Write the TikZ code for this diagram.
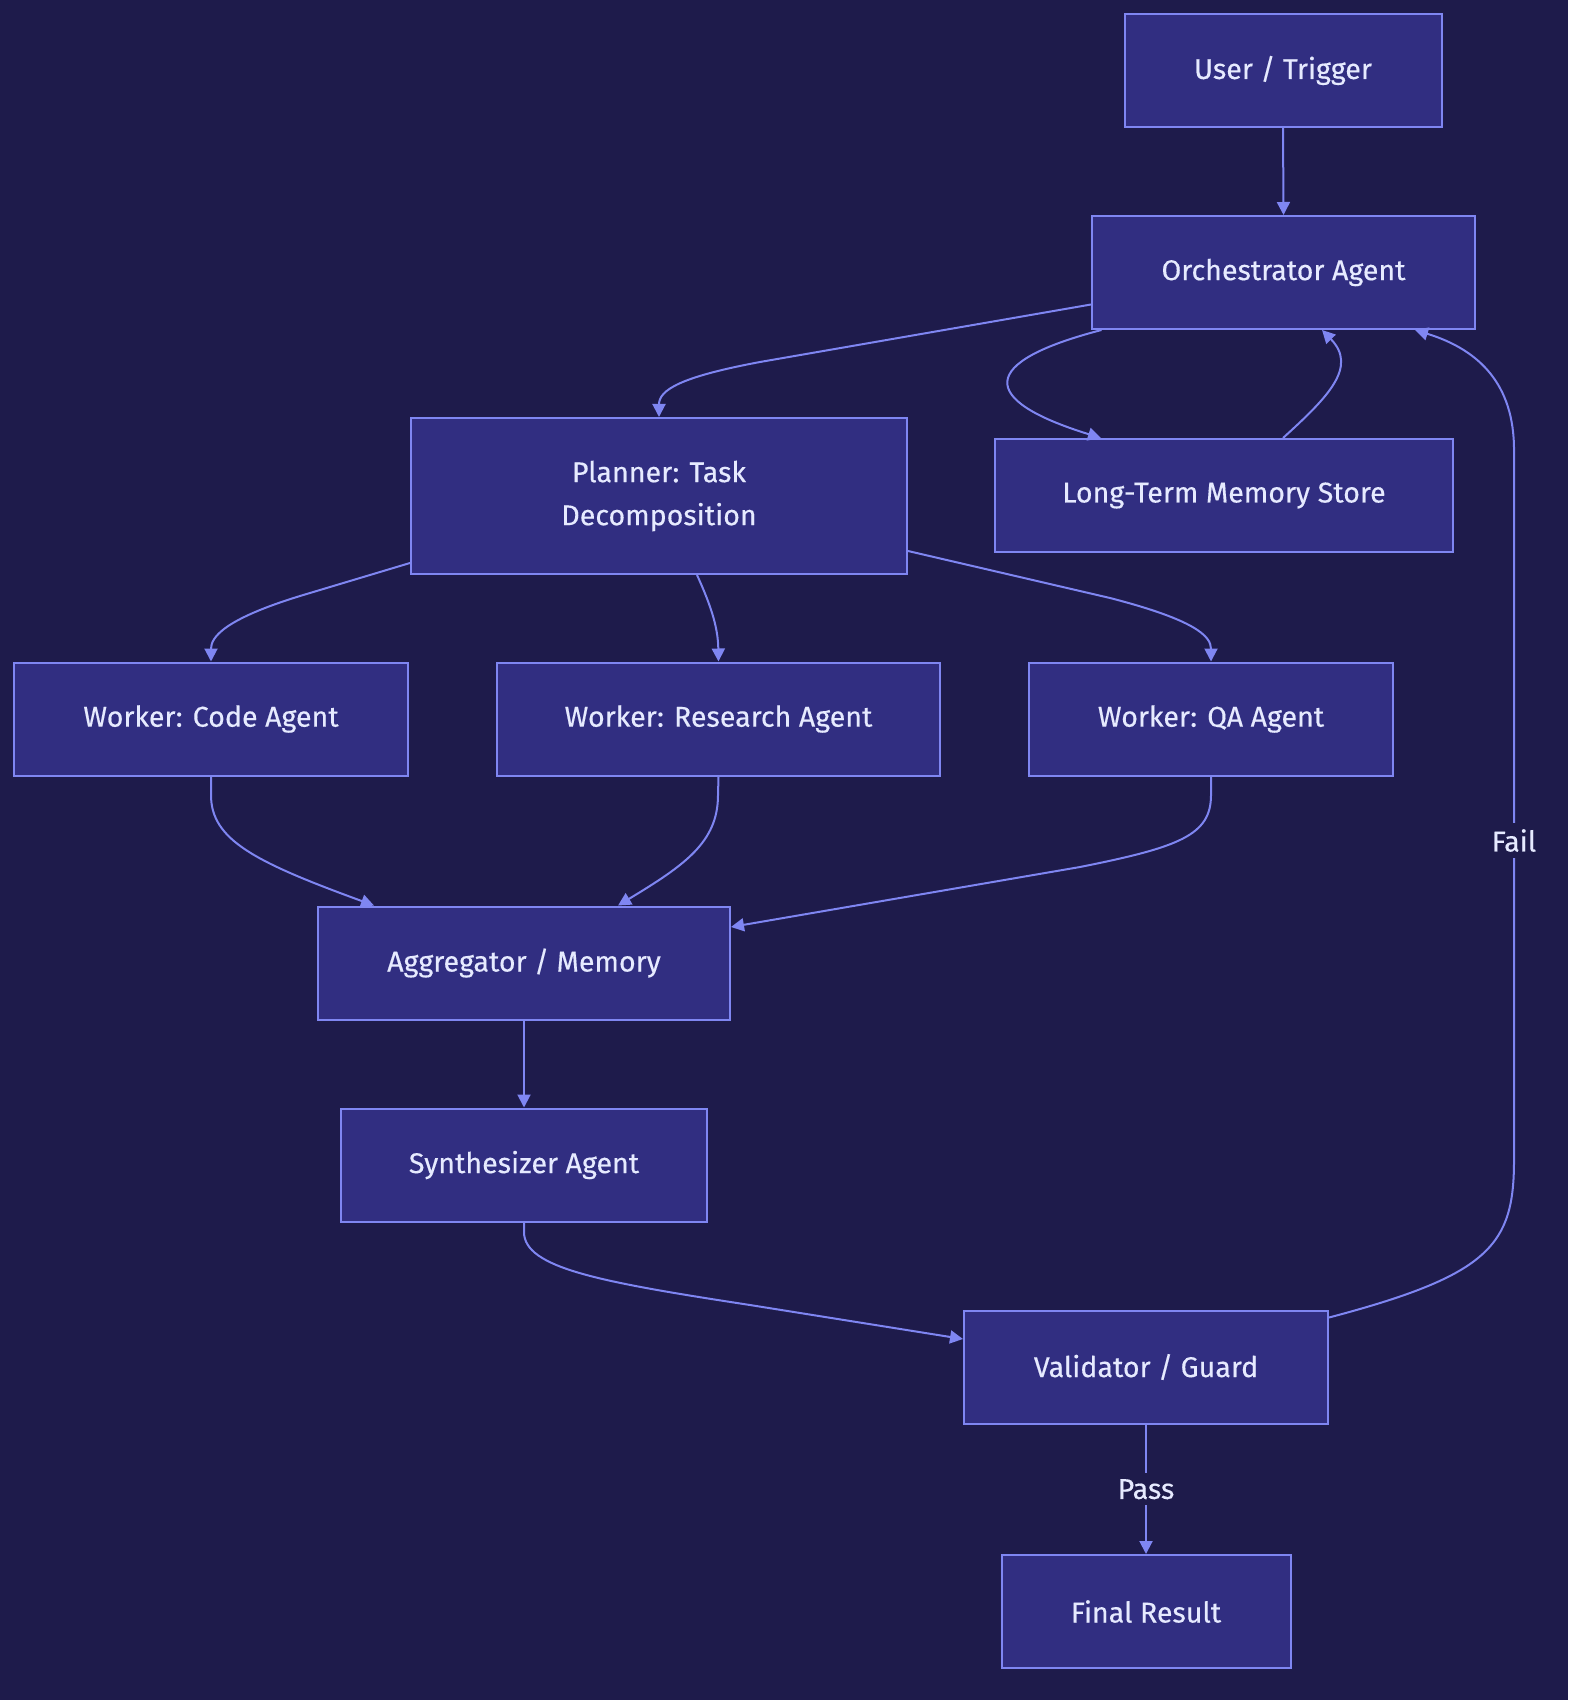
\documentclass[tikz,border=0pt]{standalone}
\usepackage{fontspec}
\setmainfont{Fira Sans}[FakeBold=0.35]
\usetikzlibrary{arrows.meta}
\definecolor{bg}{HTML}{1E1B4B}
\definecolor{boxfill}{HTML}{312E81}
\definecolor{edgecol}{HTML}{7F86F2}
\definecolor{txt}{HTML}{E6EAFF}
\begin{document}
\begin{tikzpicture}[x=0.5pt,y=-0.5pt,
  box/.style={draw=edgecol, fill=boxfill, line width=1pt, text=txt,
    font=\fontsize{14.3}{21.5}\selectfont, inner sep=0pt, align=center,
    minimum height=56.5pt},
  conn/.style={draw=edgecol, line width=1pt, -{Triangle[length=6.5pt,width=6.5pt]}},
  lbl/.style={fill=bg, text=txt, font=\fontsize{14.3}{17}\selectfont, inner sep=3pt}]
\fill[bg] (0,0) rectangle (1568,1700);
\useasboundingbox (0,0) rectangle (1568,1700);

% nodes
\node[box, minimum width=158.5pt] (user) at (1283,70.5) {User / Trigger};
\node[box, minimum width=191.5pt] (orch) at (1283.5,272.5) {Orchestrator Agent};
\node[box, minimum width=248pt, minimum height=78pt] (plan) at (659,496) {Planner: Task\\Decomposition};
\node[box, minimum width=229pt] (ltm) at (1224,495.5) {Long-Term Memory Store};
\node[box, minimum width=197pt] (code) at (211,719) {Worker: Code Agent};
\node[box, minimum width=221.5pt] (res) at (718.5,719) {Worker: Research Agent};
\node[box, minimum width=182pt] (qa) at (1211,719) {Worker: QA Agent};
\node[box, minimum width=206pt] (agg) at (524,963) {Aggregator / Memory};
\node[box, minimum width=183pt] (syn) at (524,1165) {Synthesizer Agent};
\node[box, minimum width=182pt] (val) at (1146,1367) {Validator / Guard};
\node[box, minimum width=144.5pt] (fin) at (1146,1611.5) {Final Result};

% connectors
\draw[conn] (user.south) -- (orch.north);
\draw[conn] ([yshift=-16pt]orch.west) -- (760,362) .. controls (680,377) and (659,390) .. (plan.north);
\draw[conn] ([xshift=-91pt]orch.south) .. controls (978,362) and (978,400) .. ([xshift=-61.5pt]ltm.north);
\draw[conn] ([xshift=29.5pt]ltm.north) .. controls (1328,397) and (1358,367) .. ([xshift=19.25pt]orch.south);
\draw[conn] ([yshift=-4pt]val.north east) .. controls (1490,1275) and (1514,1245) .. (1514,1160)
   -- node[lbl, pos=0.45] {Fail} (1514,450) .. controls (1514,385) and (1480,350) .. ([xshift=65.75pt]orch.south);
\draw[conn] ([yshift=-33.5pt]plan.west) -- (300,596) .. controls (222,620) and (211,638) .. (code.north);
\draw[conn] ([xshift=19pt]plan.south) .. controls (713,610) and (718,630) .. (res.north);
\draw[conn] ([yshift=-27.5pt]plan.east) -- (1110,598) .. controls (1195,620) and (1211,636) .. (qa.north);
\draw[conn] (code.south) -- (211,795) .. controls (211,840) and (255,862) .. ([xshift=-75pt]agg.north);
\draw[conn] (res.south) -- (718,795) .. controls (718,842) and (685,865) .. ([xshift=47pt]agg.north);
\draw[conn] (qa.south) -- (1211,795) .. controls (1211,835) and (1180,847) .. (1080,867) -- ([yshift=18pt]agg.east);
\draw[conn] (agg.south) -- (syn.north);
\draw[conn] (syn.south) -- (524,1232) .. controls (524,1268) and (600,1282) .. (750,1305) -- ([yshift=14pt]val.west);
\draw[conn] (val.south) -- node[lbl] {Pass} (fin.north);
\end{tikzpicture}
\end{document}
